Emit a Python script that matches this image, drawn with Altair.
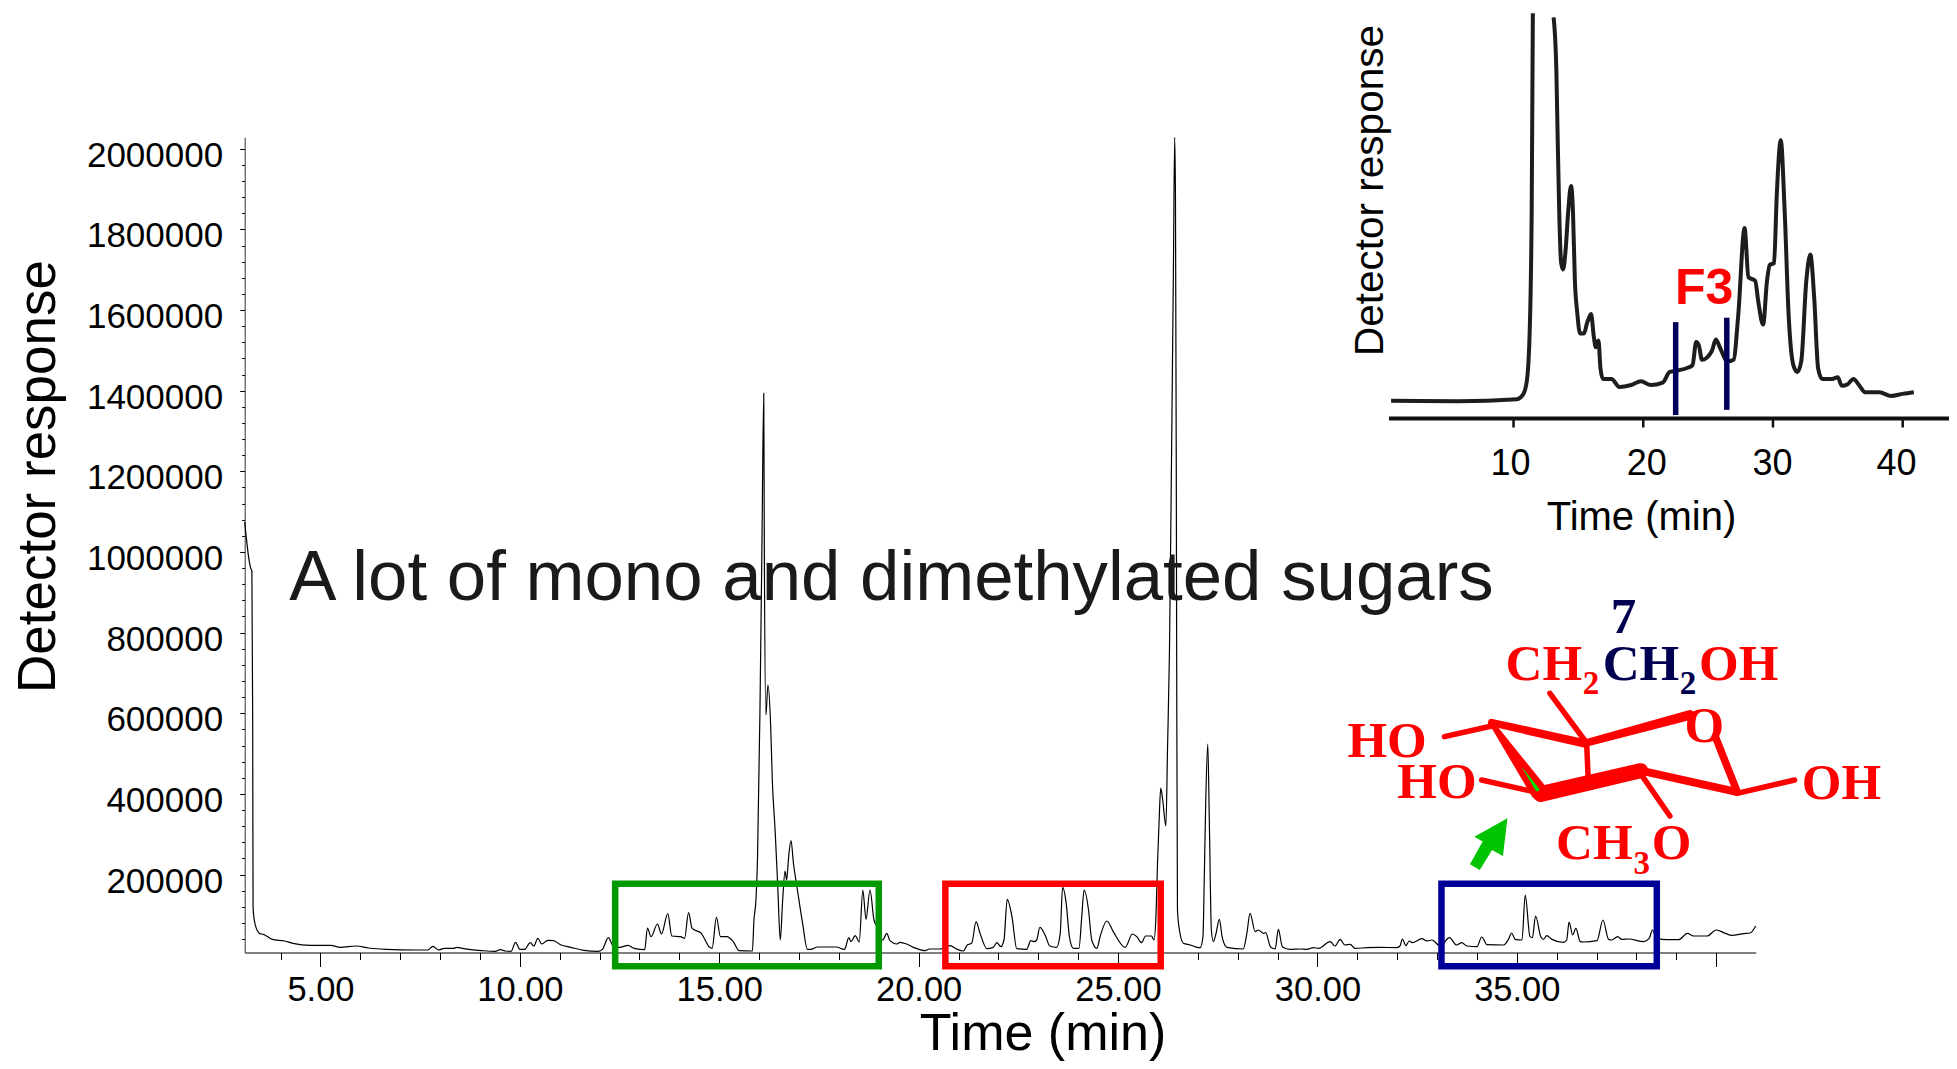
import altair as alt
import pandas as pd

SANS = "Liberation Sans"
SERIF = "Liberation Serif"

# ---- main chromatogram -------------------------------------------------
main_time = [3.10,3.15,3.20,3.25,3.28,3.30,3.31,3.36,3.48,3.57,3.79,4.10,4.31,4.74,5.26,5.50,5.90,6.21,6.64,7.38,7.69,7.82,7.96,8.11,8.33,8.43,8.59,9.06,9.38,9.51,9.64,9.78,9.89,10.00,10.12,10.26,10.35,10.45,10.55,10.70,10.84,11.02,11.28,11.60,11.97,12.07,12.22,12.34,12.50,12.71,12.87,13.13,13.20,13.29,13.45,13.55,13.71,13.81,14.03,14.13,14.23,14.32,14.55,14.76,14.82,14.93,15.03,15.19,15.35,15.50,15.83,15.87,15.92,15.96,16.02,16.07,16.116,16.13,16.17,16.22,16.29,16.33,16.40,16.46,16.48,16.53,16.59,16.65,16.69,16.74,16.80,16.86,16.96,17.09,17.21,17.30,17.46,17.72,17.93,18.14,18.25,18.30,18.41,18.51,18.60,18.68,18.78,18.88,18.96,19.10,19.20,19.28,19.45,19.53,19.70,19.87,20.16,20.28,20.54,20.79,20.95,21.12,21.22,21.33,21.44,21.54,21.71,21.87,21.96,22.06,22.14,22.22,22.34,22.46,22.71,22.81,22.89,22.96,23.04,23.17,23.29,23.46,23.55,23.61,23.70,23.78,23.88,24.02,24.09,24.15,24.26,24.34,24.47,24.55,24.72,24.88,25.18,25.36,25.47,25.59,25.69,25.84,25.90,25.95,25.99,26.04,26.07,26.12,26.20,26.24,26.29,26.34,26.39,26.42,26.44,26.46,26.47,26.49,26.54,26.64,26.81,26.93,27.06,27.13,27.16,27.20,27.25,27.29,27.34,27.39,27.46,27.54,27.61,27.69,27.73,28.14,28.23,28.31,28.44,28.52,28.65,28.70,28.83,28.94,29.02,29.12,29.31,29.57,29.73,29.90,30.03,30.32,30.44,30.57,30.69,30.82,30.94,31.24,31.57,31.99,32.07,32.13,32.22,32.30,32.38,32.62,32.74,32.87,33.08,33.31,33.49,33.62,33.75,34.00,34.12,34.25,34.67,34.79,34.87,34.96,35.13,35.21,35.33,35.39,35.47,35.60,35.67,35.75,35.88,36.17,36.25,36.31,36.40,36.48,36.59,36.67,37.01,37.16,37.30,37.38,37.53,37.63,37.80,38.18,38.32,38.40,38.51,38.76,39.06,39.28,39.43,39.77,40.00,40.23,40.39,40.69,40.85,40.99]
main_resp = [1074000,1027000,986000,960000,953000,588000,117000,77000,53600,51800,39300,35200,29400,24500,24500,19500,22800,17900,14600,12900,12900,22000,12900,17000,17000,19500,16200,11200,9600,13700,10400,9600,31900,14500,14500,31100,22800,41800,27800,36900,36000,26100,19500,12100,9600,14500,43500,22800,19500,24500,17000,13700,67500,46000,77400,52600,103000,47600,46000,41800,105500,66600,54200,19500,17000,93900,46000,46000,33600,11200,10400,87300,136900,244300,600600,1013000,1393500,1013000,595700,670000,566700,434500,310500,186500,136900,37700,136900,208800,186500,244300,284000,228600,161700,79000,14500,14500,20300,20300,20300,14500,43500,33600,48400,32700,161700,89000,161700,87300,70800,37700,54200,36000,27800,31900,27800,19500,11200,15400,15400,23600,15400,10400,25300,29400,83200,54200,16200,19500,31000,21200,37700,138600,95600,16200,14500,36000,33600,37700,69100,50100,22800,19500,54200,168300,128600,46000,17000,17000,95600,161700,112100,37700,17000,46000,84800,58400,19500,52600,46000,31000,47600,47600,37700,95500,228000,360100,414700,384900,320400,508900,756900,1220700,1716600,2028400,1880000,1220700,756900,112100,62500,29500,25300,21100,18600,45900,179000,384900,523800,327800,62500,33500,55100,89000,45900,22800,19500,15400,54200,103800,58400,62500,54200,55900,19500,15400,64200,21200,14500,15400,14500,18700,17000,33600,22800,39300,25300,26900,17000,18700,19500,18700,22800,40200,23600,35200,31100,41000,35200,37700,22800,43500,25300,31100,22800,21200,45100,26100,25300,39300,55000,39300,37700,149200,46000,43500,97200,46000,39300,48400,39300,31900,37700,82300,50100,66600,33600,32700,36000,87300,39300,37700,46000,39300,40200,33600,41800,62500,41000,38500,38500,54200,47600,47600,62500,54200,49200,53400,55000,72400]

main_x_ticks = list(range(4, 41))
main_y_ticks = list(range(40000, 2000001, 40000))

box_names = ["green", "red", "blue"]
box_t0 = [12.39, 20.67, 33.11]
box_t1 = [19.00, 26.07, 38.51]
box_r0 = [-27500, -27500, -27500]
box_r1 = [177300, 177300, 177300]
box_colors = {"green": "#009900", "red": "#ff0000", "blue": "#000099"}

note_t = [4.22]
note_r = [880900]
note_text = ["A lot of mono and dimethylated sugars"]

# ---- inset chromatogram ------------------------------------------------
inset_a_t = [0.56,5.72,10.27,10.73,11.03,11.24,11.40,11.49]
inset_a_v = [4.4,4.3,4.8,5.9,9.4,21,51.3,100]
inset_b_t = [13.09,13.30,13.37,13.52,13.67,13.82,14.00,14.22,14.43,14.58,14.73,14.91,15.13,15.43,15.67,15.98,16.19,16.34,16.55,16.70,16.89,17.55,18.16,19.07,19.83,20.59,21.50,22.04,22.71,23.47,23.80,24.08,24.29,24.53,25.29,25.60,25.90,26.50,26.96,27.32,27.81,28.11,28.63,28.87,29.24,29.54,29.75,30.08,30.30,30.60,30.90,31.21,31.57,31.88,32.18,32.57,32.88,33.18,33.48,33.79,34.55,35.00,35.30,35.76,36.20,36.67,37.10,38.20,39.10,40.00,40.86]
inset_b_v = [99,86,74.7,51.3,38.4,36.8,41,51.3,57.4,51.3,34,26.2,21,21,23.6,25.8,20.2,17.6,19.3,12.4,9.8,9.8,7.8,8.3,9.2,8.3,8.9,11.5,11.9,12.6,13.2,18.9,18,14.5,16.7,19.5,17.6,14.1,14.5,25.4,47,34.9,34,28.8,23.2,34,37.9,38.4,55.7,68.7,51.3,25.4,13.2,11.5,14.1,34,40.5,29.7,12.4,9.8,9.8,10.2,8.1,8.5,9.8,8.1,6.5,6.5,5.6,6.1,6.5]
inset_ticks = [10, 20, 30, 40]
inset_axis_t0 = [0.4]
inset_axis_t1 = [43.57]
inset_axis_v = [0]
inset_tick_v = [-2.2]
f3_t = [22.5, 26.44]
f3_v0 = [0.87, 2.16]
f3_v1 = [23.8, 24.9]
f3_label_t = [24.7]
f3_label_v = [31.9]
f3_label = ["F3"]

# ---- molecule drawing (drawing units) ----------------------------------
RED = "#ff0000"
NAVY = "#000050"
bonds = [
    # x1, y1, w1, x2, y2, w2
    (315, 470, 5.5, 445, 438, 5.5),
    (445, 428, 7.5, 700, 490, 8.5),
    (700, 490, 7.5, 990, 405, 10),
    (605, 340, 5.5, 700, 480, 5.5),
    (706, 490, 5.5, 710, 590, 5.5),
    (445, 430, 5, 575, 635, 17),
    (417, 600, 5.5, 560, 635, 5.5),
    (580, 642, 16, 855, 572, 15),
    (855, 572, 8, 1115, 635, 8),
    (860, 590, 5.5, 935, 708, 5.5),
    (1060, 470, 7.5, 1120, 635, 7.5),
    (1120, 640, 5.5, 1278, 600, 5.5),
]
sliver = [(530, 565, 0.5, 570, 628, 4)]
big_x = [48, 185, 1298, 483, 750, 1015, 975, 772, 622, 885]
big_y = [532, 655, 658, 300, 300, 300, 485, 160, 838, 838]
big_txt = ["HO", "HO", "OH", "CH", "CH", "OH", "O", "7", "CH", "O"]
big_col = [RED, RED, RED, RED, NAVY, RED, RED, NAVY, RED, RED]
sub_x = [695, 962, 835]
sub_y = [343, 343, 882]
sub_txt = ["2", "2", "3"]
sub_col = [RED, NAVY, RED]
arrow_x = [440]
arrow_y = [790]

# ---- scales ------------------------------------------------------------
W, H = 1941, 1053
main_x = alt.Scale(domain=[3.10, 40.99], range=[236.7, 1747.7], nice=False, zero=False)
main_y = alt.Scale(domain=[6700, 2028400], range=[944.5, 129.3], nice=False, zero=False)
ins_x = alt.Scale(domain=[0.4, 43.57], range=[1381, 1941], nice=False, zero=False)
ins_y = alt.Scale(domain=[0, 100], range=[410.6, 5.3], nice=False, zero=False)
mol_x = alt.Scale(domain=[0, 1568], range=[1322, 1892], nice=False, zero=False)
mol_y = alt.Scale(domain=[0, 900], range=[572, 872], nice=False, zero=False)

# ---- layers ------------------------------------------------------------
main_df = pd.DataFrame({"t": main_time, "r": main_resp})
x_axis = alt.Axis(
    values=main_x_ticks,
    orient="bottom", offset=-(H - 944.5), grid=False,
    labelExpr="datum.value % 5 == 0 && datum.value < 40 ? format(datum.value, '.2f') : ''",
    labelFont=SANS, labelFontSize=34.5, labelColor="#000", labelPadding=6.5, labelOverlap=False, labelFlush=False,
    tickSize={"condition": {"test": "datum.value % 5 == 0", "value": 14}, "value": 7},
    tickColor="#000", domainColor="#000", domainWidth=1, tickWidth=1,
    title="Time (min)", titleFont=SANS, titleFontSize=52, titleFontWeight="normal", titleColor="#000",
    titleX=1034.5, titleY=97, titleAlign="center", titleBaseline="alphabetic",
)
y_axis = alt.Axis(
    values=main_y_ticks,
    orient="left", offset=-236.7, grid=False,
    labelExpr="datum.value % 200000 == 0 ? format(datum.value, 'd') : ''",
    labelFont=SANS, labelFontSize=35, labelColor="#000", labelPadding=17, labelOffset=6.5, labelOverlap=False, labelFlush=False,
    tickSize={"condition": {"test": "datum.value % 200000 == 0", "value": 5}, "value": 3},
    tickColor="#000", domainColor="#333", domainWidth=1, tickWidth=1,
    title="Detector response", titleFont=SANS, titleFontSize=53, titleFontWeight="normal", titleColor="#000",
    titleX=-179, titleY=468, titleAlign="center", titleAngle=270,
)
main_line = alt.Chart(main_df).mark_line(color="#000", strokeWidth=1.2, interpolate="monotone").encode(
    x=alt.X("t:Q", scale=main_x, axis=x_axis),
    y=alt.Y("r:Q", scale=main_y, axis=y_axis),
)

box_layers = []
for i, n in enumerate(box_names):
    d = pd.DataFrame({"t0": [box_t0[i]], "t1": [box_t1[i]], "r0": [box_r0[i]], "r1": [box_r1[i]]})
    box_layers.append(
        alt.Chart(d).mark_rect(fillOpacity=0, stroke=box_colors[n], strokeWidth=6.5).encode(
            x=alt.X("t0:Q", scale=main_x, axis=None), x2="t1:Q",
            y=alt.Y("r0:Q", scale=main_y, axis=None), y2="r1:Q",
        )
    )

note = alt.Chart(pd.DataFrame({"t": note_t, "r": note_r, "s": note_text})).mark_text(
    font=SANS, fontSize=70.8, color="#1a1a1a", align="left", baseline="alphabetic"
).encode(
    x=alt.X("t:Q", scale=main_x, axis=None),
    y=alt.Y("r:Q", scale=main_y, axis=None),
    text="s:N",
)

ins_df = pd.DataFrame({
    "t": inset_a_t + inset_b_t,
    "v": inset_a_v + inset_b_v,
    "part": ["a"] * len(inset_a_t) + ["b"] * len(inset_b_t),
})
ins_x_axis = alt.Axis(
    values=inset_ticks, orient="bottom", offset=-(H - 410.6), grid=False, ticks=False, domain=False,
    labelFont=SANS, labelFontSize=36, labelColor="#000", labelPadding=28, labelFlush=False, labelOverlap=False,
    labelOffset={"condition": [
        {"test": "datum.value == 10", "value": -3.6},
        {"test": "datum.value == 20", "value": 3},
        {"test": "datum.value == 30", "value": -1},
    ], "value": -6.6},
    title="Time (min)", titleFont=SANS, titleFontSize=40, titleFontWeight="normal", titleColor="#000",
    titleX=1633, titleY=111, titleAlign="center", titleBaseline="alphabetic",
)
ins_y_axis = alt.Axis(
    orient="left", offset=-1381, grid=False, domain=False, ticks=False, labels=False,
    title="Detector response", titleFont=SANS, titleFontSize=40.5, titleFontWeight="normal", titleColor="#000",
    titleX=2, titleY=182, titleAlign="center", titleAngle=270,
)
ins_line = alt.Chart(ins_df).mark_line(color="#111", strokeWidth=4, opacity=0.95, interpolate="monotone").encode(
    x=alt.X("t:Q", scale=ins_x, axis=ins_x_axis),
    y=alt.Y("v:Q", scale=ins_y, axis=ins_y_axis),
    detail="part:N",
)
ins_base = alt.Chart(pd.DataFrame({"t0": inset_axis_t0, "t1": inset_axis_t1, "v": inset_axis_v})).mark_rule(color="#111", strokeWidth=4).encode(
    x=alt.X("t0:Q", scale=ins_x, axis=None), x2="t1:Q",
    y=alt.Y("v:Q", scale=ins_y, axis=None),
)
ins_tick_marks = alt.Chart(pd.DataFrame({"t": inset_ticks, "v0": inset_axis_v * 4, "v1": inset_tick_v * 4})).mark_rule(color="#111", strokeWidth=2.5).encode(
    x=alt.X("t:Q", scale=ins_x, axis=None),
    y=alt.Y("v0:Q", scale=ins_y, axis=None), y2="v1:Q",
)
ins_rules = alt.Chart(pd.DataFrame({"t": f3_t, "v0": f3_v0, "v1": f3_v1})).mark_rule(color="#00005a", strokeWidth=5.5).encode(
    x=alt.X("t:Q", scale=ins_x, axis=None),
    y=alt.Y("v0:Q", scale=ins_y, axis=None), y2="v1:Q",
)
f3 = alt.Chart(pd.DataFrame({"t": f3_label_t, "v": f3_label_v, "s": f3_label})).mark_text(
    font=SANS, fontSize=50, fontWeight="bold", color=RED, align="center", baseline="middle"
).encode(
    x=alt.X("t:Q", scale=ins_x, axis=None),
    y=alt.Y("v:Q", scale=ins_y, axis=None),
    text="s:N",
)

def trail_df(segs):
    rows = []
    for i, (x1, y1, w1, x2, y2, w2) in enumerate(segs):
        rows.append({"id": i, "x": x1, "y": y1, "w": w1})
        rows.append({"id": i, "x": x2, "y": y2, "w": w2})
    return pd.DataFrame(rows)

def trail_layer(segs, color):
    return alt.Chart(trail_df(segs)).mark_trail(color=color).encode(
        x=alt.X("x:Q", scale=mol_x, axis=None),
        y=alt.Y("y:Q", scale=mol_y, axis=None),
        size=alt.Size("w:Q", scale=None, legend=None),
        detail="id:N",
    )

def mol_text(xs, ys, txt, cols, size):
    return alt.Chart(pd.DataFrame({"x": xs, "y": ys, "s": txt, "c": cols})).mark_text(
        font=SERIF, fontWeight="bold", fontSize=size, align="left", baseline="alphabetic"
    ).encode(
        x=alt.X("x:Q", scale=mol_x, axis=None),
        y=alt.Y("y:Q", scale=mol_y, axis=None),
        text="s:N",
        color=alt.Color("c:N", scale=None, legend=None),
    )

arrow_shape = "M0.583,-0.833L0.433,0.423L0.073,0.223L-0.34,0.89L-0.667,0.7L-0.243,-0.057L-0.52,-0.223Z"
arrow = alt.Chart(pd.DataFrame({"x": arrow_x, "y": arrow_y})).mark_point(
    shape=arrow_shape, size=3600, filled=True, opacity=1, color="#00c400", strokeWidth=0
).encode(
    x=alt.X("x:Q", scale=mol_x, axis=None),
    y=alt.Y("y:Q", scale=mol_y, axis=None),
)

chart = alt.layer(
    main_line, *box_layers, note,
    ins_line, ins_base, ins_tick_marks, ins_rules, f3,
    trail_layer(bonds, RED), trail_layer(sliver, "#00e000"),
    mol_text(big_x, big_y, big_txt, big_col, 51),
    mol_text(sub_x, sub_y, sub_txt, sub_col, 33),
    arrow,
).resolve_scale(x="independent", y="independent").properties(
    width=W, height=H, padding=0, autosize=alt.AutoSizeParams(type="none"),
    background="white",
).configure_view(stroke=None)

chart.save("out.html", embed_options={"renderer": "svg", "actions": False})
